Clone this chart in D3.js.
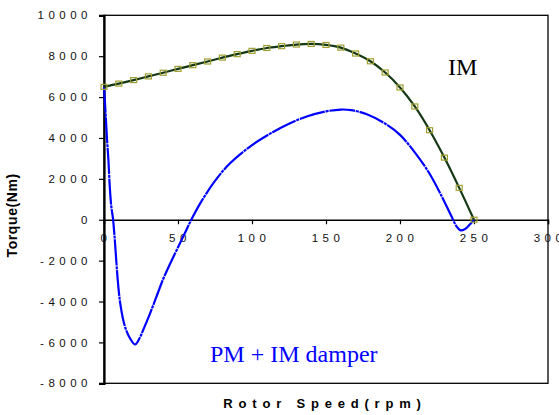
<!DOCTYPE html>
<html>
<head>
<meta charset="utf-8">
<script src="https://cdn.jsdelivr.net/npm/d3@7"></script>
<style>
  body { margin: 0; background: #fff; }
  svg { display: block; }
</style>
</head>
<body>
<div id="chart"></div>
<script>
// IM curve, one point every 10 rpm
const imSpeed = [0, 10, 20, 30, 40, 50, 60, 70, 80, 90, 100, 110, 120, 130, 140, 150, 160, 170, 180, 190, 200, 210, 220, 230, 240, 250];
const imTorque = [6500, 6660, 6830, 7010, 7190, 7380, 7560, 7740, 7930, 8100, 8260, 8400, 8490, 8570, 8600, 8550, 8420, 8130, 7750, 7200, 6470, 5540, 4380, 3040, 1560, 0];

// PM + IM damper curve
const pmSpeed = [0, 1, 2, 3, 4, 5, 6, 7, 8, 9, 10, 11, 13, 15, 18, 21, 24, 27, 31, 35, 40, 45, 51, 55, 59, 65, 75, 85, 100, 112, 125, 137, 150, 160, 167, 178, 190, 200, 211, 220, 229, 235, 238, 241, 244, 247, 250];
const pmTorque = [6500, 5300, 4000, 2900, 1500, 600, 100, -700, -1700, -2700, -3500, -4100, -4900, -5400, -5850, -6100, -5800, -5300, -4600, -3850, -2900, -2100, -1200, -600, 0, 800, 1900, 2750, 3650, 4200, 4700, 5050, 5300, 5390, 5360, 5150, 4700, 4150, 3200, 2250, 1030, 130, -300, -520, -450, -250, 0];

const xTicks = [0, 50, 100, 150, 200, 250, 300];
const yTicks = [10000, 8000, 6000, 4000, 2000, 0, -2000, -4000, -6000, -8000];

const width = 559, height = 415;
const margin = { top: 15.3, right: 11, bottom: 31.7, left: 104 };

const x = d3.scaleLinear().domain([0, 300]).range([margin.left, width - margin.right]);
const y = d3.scaleLinear().domain([-8000, 10000]).range([height - margin.bottom, margin.top]);

const svg = d3.select('#chart').append('svg')
    .attr('width', width)
    .attr('height', height);

// frame
svg.append('rect')
    .attr('x', x(0)).attr('y', y(10000))
    .attr('width', x(300) - x(0)).attr('height', y(-8000) - y(10000))
    .attr('fill', 'none').attr('stroke', '#000').attr('stroke-width', 1.3);

// y axis
const yAxis = svg.append('g').attr('transform', `translate(${x(0)},0)`)
    .call(d3.axisLeft(y).tickValues(yTicks).tickSize(5).tickFormat(''));
yAxis.select('.domain').attr('stroke-width', 2.2);
yAxis.selectAll('.tick line').attr('stroke-width', 1.2);

svg.append('g').selectAll('text')
    .data(yTicks)
    .enter().append('text')
    .attr('x', 92)
    .attr('y', d => y(d))
    .attr('dy', '0.36em')
    .attr('text-anchor', 'end')
    .style('font', '11.5px "Liberation Sans", Arial, sans-serif')
    .style('letter-spacing', '4.5px')
    .attr('fill', '#111')
    .text(d => d);

// x axis on the zero line
const xAxis = svg.append('g').attr('transform', `translate(0,${y(0)})`)
    .call(d3.axisBottom(x).tickValues(xTicks).tickSize(4.5).tickFormat(''));
xAxis.select('.domain').attr('stroke-width', 1.5);
xAxis.selectAll('.tick line').attr('stroke-width', 1.2);

svg.append('g').selectAll('text')
    .data(xTicks)
    .enter().append('text')
    .attr('x', d => x(d) + 2)
    .attr('y', y(0) + 22)
    .attr('text-anchor', 'middle')
    .style('font', '11.5px "Liberation Sans", Arial, sans-serif')
    .style('letter-spacing', '4.5px')
    .attr('fill', '#111')
    .text(d => d);

// axis titles
svg.append('text')
    .attr('transform', `translate(17,${(y(10000) + y(-8000)) / 2 + 16}) rotate(-90)`)
    .attr('text-anchor', 'middle')
    .style('font', 'bold 14px "Liberation Sans", Arial, sans-serif')
    .style('letter-spacing', '0.6px')
    .text('Torque(Nm)');

svg.append('text')
    .attr('x', 325)
    .attr('y', 408)
    .attr('text-anchor', 'middle')
    .style('font', 'bold 13px "Liberation Sans", Arial, sans-serif')
    .style('letter-spacing', '5.8px')
    .text('Rotor Speed(rpm)');

// curves
const pmData = pmSpeed.map((s, i) => [s, pmTorque[i]]);
const imData = imSpeed.map((s, i) => [s, imTorque[i]]);

const line = d3.line()
    .x(d => x(d[0]))
    .y(d => y(d[1]))
    .curve(d3.curveCatmullRom.alpha(0.5));

svg.append('path')
    .datum(pmData)
    .attr('d', line)
    .attr('fill', 'none')
    .attr('stroke', '#0000ff')
    .attr('stroke-width', 2.2)
    .attr('stroke-dasharray', '26 0.8 3 0.8');

svg.append('path')
    .datum(imData)
    .attr('d', line)
    .attr('fill', 'none')
    .attr('stroke', '#143814')
    .attr('stroke-width', 2.2);

svg.append('g').selectAll('rect')
    .data(imData)
    .enter().append('rect')
    .attr('x', d => x(d[0]) - 3)
    .attr('y', d => y(d[1]) - 2.5)
    .attr('width', 6)
    .attr('height', 5)
    .attr('fill', 'none')
    .attr('stroke', '#a0a032')
    .attr('stroke-width', 1.2);

// curve labels
svg.append('text')
    .attr('x', 448)
    .attr('y', 75)
    .style('font', '24px "Liberation Serif", "Times New Roman", serif')
    .attr('fill', '#000')
    .text('IM');

svg.append('text')
    .attr('x', 210)
    .attr('y', 362)
    .style('font', '24px "Liberation Serif", "Times New Roman", serif')
    .attr('fill', '#0000ff')
    .text('PM + IM damper');
</script>
</body>
</html>
